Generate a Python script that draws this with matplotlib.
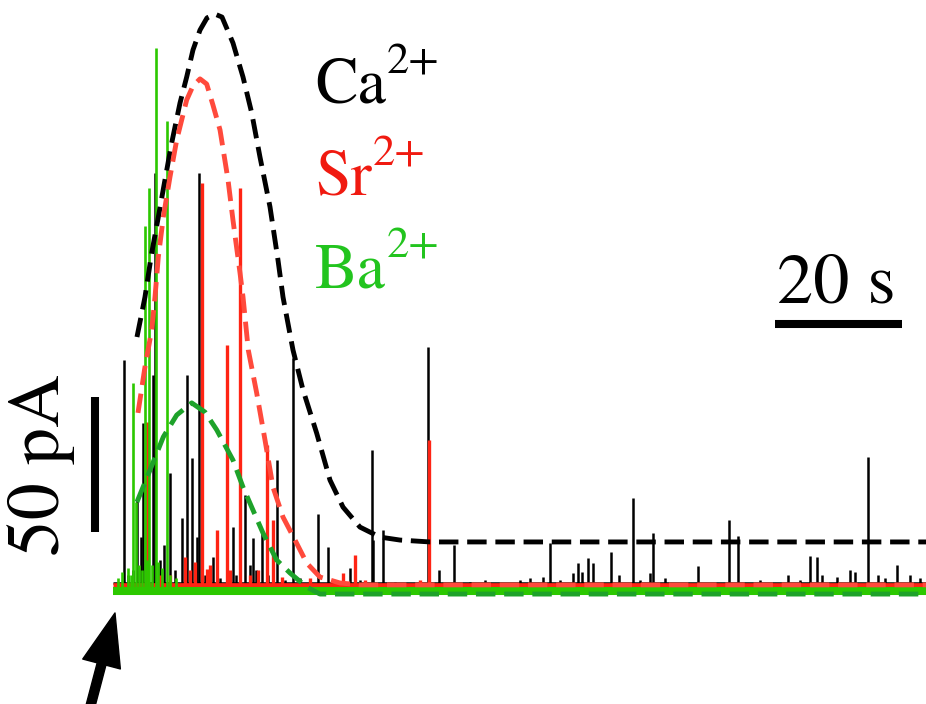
import matplotlib
matplotlib.use('Agg')
import matplotlib.pyplot as plt

plt.rcParams['font.family'] = ['STIXGeneral', 'DejaVu Serif']
plt.rcParams['mathtext.fontset'] = 'stix'

# amperometric spikes: time (s) and peak current (pA)
ca_t = [1.42, 3.46, 4.09, 4.41, 5.98, 6.30, 8.66, 10.50, 11.29, 12.08, 12.87, 13.28,
        15.43, 17.59, 18.58, 20.47, 21.73, 23.10, 25.46, 28.08, 31.97, 33.54, 37.01,
        40.43, 40.63, 42.20, 49.29, 51.02, 53.39, 67.40, 68.50, 72.13, 72.91, 73.54,
        74.49, 75.28, 78.11, 79.37, 81.57, 84.25, 84.72, 91.81, 96.69, 98.11, 105.98,
        109.45, 110.55, 111.34, 113.70, 115.75, 118.58, 120.16, 123.15, 125.20,
        2.05, 2.83, 5.20, 7.09, 7.72, 9.45, 14.17, 14.96, 16.54, 19.06, 21.26, 22.20,
        24.09, 26.77, 29.13, 30.71, 35.43, 38.58, 44.09, 55.91, 58.27, 63.78, 65.35,
        70.08, 82.68, 86.61, 101.57, 107.87, 116.54, 121.26, 126.77]
ca_a = [85.2, 33.3, 19.6, 61.9, 79.6, 154.4, 43.3, 26.7, 79.6, 48.9, 19.6, 154.4,
        12.2, 29.6, 23.3, 35.2, 19.3, 21.1, 48.1, 85.9, 28.1, 15.9, 8.1,
        51.9, 18.5, 22.2, 90.0, 7.4, 16.7, 4.8, 17.4, 6.3, 10.0, 6.7,
        11.9, 10.0, 14.1, 5.6, 34.1, 6.3, 21.1, 8.9, 25.9, 20.0, 5.6,
        12.6, 12.2, 5.6, 4.8, 7.4, 49.3, 5.6, 9.3, 5.6,
        5.6, 7.4, 13.0, 11.1, 16.7, 7.4, 5.6, 6.7, 4.4, 5.6, 9.3, 7.4,
        5.6, 3.7, 4.4, 3.7, 3.0, 3.7, 3.0, 3.0, 3.7, 3.7, 4.4,
        3.7, 3.7, 4.4, 3.7, 3.7, 6.7, 4.4, 4.4]

sr_t = [4.99, 11.02, 13.65, 14.44, 16.02, 17.69, 19.76, 23.89, 24.88, 35.91, 37.80, 49.45,
        7.09, 8.66, 11.81, 12.60, 14.96, 18.11, 21.26, 22.52, 26.30, 30.71, 39.37, 48.03]
sr_a = [62.2, 12.2, 150.7, 7.8, 22.2, 90.7, 148.9, 53.7, 25.9, 6.3, 13.0, 55.6,
        5.6, 5.6, 7.4, 10.4, 9.3, 7.4, 5.6, 7.4, 4.8, 4.4, 3.7, 3.7]

ba_t = [2.91, 3.31, 4.72, 5.40, 6.46, 8.24,
        0.47, 1.10, 2.05, 2.52, 3.78, 4.25, 5.04, 5.83, 6.77, 7.40, 8.66, 9.61]
ba_a = [76.7, 32.6, 134.8, 148.9, 200.7, 173.7,
        4.4, 6.7, 8.1, 5.6, 9.3, 7.4, 11.1, 9.3, 10.4, 8.1, 5.6, 4.4]

# baseline level of each trace (pA)
ca_base = 2.6
sr_base = 2.0
ba_base = -0.4
trace_span = [-0.3, 130.0]

# dashed envelopes (fits of spike frequency)
ca_fit_t = [3.46, 4.72, 5.78, 6.82, 7.87, 8.93, 10.24, 11.29, 12.28, 13.39, 14.49, 15.75,
            16.85, 18.58, 20.16, 21.53, 22.83, 24.41, 25.67, 26.46, 28.03, 29.61, 31.76,
            33.86, 35.91, 38.58, 41.73, 44.88, 49.61, 130.0]
ca_fit_a = [93.7, 108.5, 124.8, 138.1, 151.9, 165.6, 180.4, 190.0, 200.0, 207.4, 211.9, 213.3,
            212.2, 202.6, 190.0, 176.7, 160.4, 141.9, 122.2, 108.5, 88.9, 74.1, 58.1,
            40.7, 30.7, 23.3, 19.6, 18.5, 17.8, 17.8]

sr_fit_t = [3.62, 4.72, 5.78, 6.30, 6.82, 7.61, 8.66, 9.72, 11.29, 12.28, 13.39, 14.44,
            15.43, 16.54, 17.80, 18.58, 19.69, 20.16, 20.99, 22.31, 23.62, 24.88, 26.46,
            28.35, 30.19, 32.28, 35.43, 38.58, 130.0]
sr_fit_a = [65.6, 82.6, 96.3, 108.5, 123.3, 138.1, 153.0, 166.7, 181.5, 186.7, 189.3, 187.4,
            179.6, 170.4, 151.9, 137.0, 117.4, 108.5, 88.9, 73.0, 55.6, 38.1, 27.0,
            18.5, 10.0, 4.8, 2.6, 1.9, 1.9]

ba_fit_t = [3.46, 5.51, 7.61, 9.72, 12.08, 14.17, 16.02, 18.58, 20.16, 21.73, 23.31,
            25.46, 27.56, 30.19, 32.28, 130.0]
ba_fit_a = [32.6, 44.4, 56.7, 64.8, 69.3, 65.9, 59.3, 48.1, 38.1, 29.6, 21.1,
            11.1, 6.3, 1.1, -1.5, -1.5]

ions = ['Ca', 'Sr', 'Ba']
ion_label_y = [180.4, 146.3, 112.2]
ion_colors = ['#000000', '#f01a10', '#22c41e']

BLACK = '#000000'
RED = '#ff2414'
RED_FIT = '#ff4a3c'
GREEN = '#2cc800'
GREEN_FIT = '#1ea22a'

fig = plt.figure(figsize=(9.26, 7.04), dpi=100)
ax = fig.add_axes([0, 0, 1, 1])
ax.set_xlim(-18.11, 127.72)
ax.set_ylim(-42.22, 218.52)
ax.axis('off')

# raw traces
ax.plot(trace_span, [ca_base, ca_base], color=BLACK, lw=1.8, solid_capstyle='butt')
ax.vlines(ca_t, ca_base, ca_a, color=BLACK, lw=1.8)
ax.plot(trace_span, [sr_base, sr_base], color=RED, lw=3.4, solid_capstyle='butt')
ax.vlines(sr_t, sr_base, sr_a, color=RED, lw=2.4)
ax.plot(trace_span, [ba_base, ba_base], color=GREEN, lw=5.8, solid_capstyle='butt')
ax.vlines(ba_t, ba_base, ba_a, color=GREEN, lw=1.9)

# envelopes
dash = (0, (4.0, 1.8))
ax.plot(ca_fit_t, ca_fit_a, color=BLACK, lw=3.5, ls=dash)
ax.plot(sr_fit_t, sr_fit_a, color=RED_FIT, lw=3.5, ls=dash)
ax.plot(ba_fit_t, ba_fit_a, color=GREEN_FIT, lw=3.5, ls=dash)

# labels: element name plus a separate superscript charge
renderer = fig.canvas.get_renderer()
for name, y, c in zip(ions, ion_label_y, ion_colors):
    t = ax.text(31.5, y, name, color=c, fontsize=46, va='baseline', ha='left')
    w = t.get_window_extent(renderer).width * 72 / fig.dpi
    ax.annotate('2+', xy=(31.5, y), xytext=(w + 0.5, 21.5), textcoords='offset points',
                color=c, fontsize=32, va='baseline', ha='left')

# scale bars
ax.plot([103.94, 123.94], [98.5, 98.5], color=BLACK, lw=5.8, solid_capstyle='butt')
ax.text(113.6, 106.3, '20 s', fontsize=52, ha='center', va='baseline')
ax.plot([-3.15, -3.15], [21.5, 71.5], color=BLACK, lw=5.8, solid_capstyle='butt')
ax.text(-11.65, 46.3, '50 pA', fontsize=53, rotation=90, ha='center', va='center')

# stimulus arrow
ax.annotate('', xy=(0.0, -8.5), xytext=(-4.2, -46.0),
            arrowprops=dict(facecolor=BLACK, edgecolor=BLACK, width=6.5,
                            headwidth=28, headlength=38, shrink=0),
            annotation_clip=False)

fig.savefig('out.png', dpi=100)
